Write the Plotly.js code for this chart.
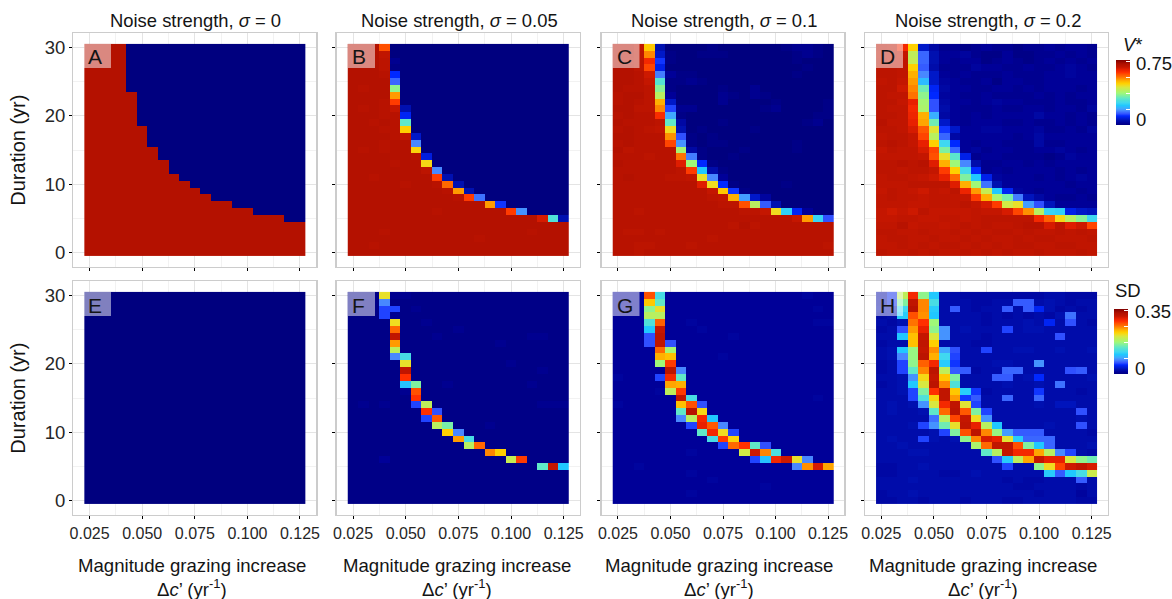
<!DOCTYPE html>
<html><head><meta charset="utf-8">
<script src="https://cdn.plot.ly/plotly-3.0.1.min.js"></script>
<style>html,body{margin:0;padding:0;background:#fff}</style></head>
<body><div id="chart" style="width:1172px;height:599px"></div>
<script>
// Cell values are percent of the top of each colour legend; rows run from duration 30 (first) to 0 (last).
const V_TOP = 0.775, SD_TOP = 0.36;
const durations = Array.from({length:31},(_,i)=>30-i);
const magnitudes = [0.025,0.03,0.035,0.04,0.045,0.05,0.055,0.06,0.065,0.07,0.075,0.08,0.085,0.09,0.095,0.1,0.105,0.11,0.115,0.12,0.125];
const noiseLabels = ['0','0.05','0.1','0.2'];
const panelLetters = ['A','B','C','D','E','F','G','H'];
const vTicks = [0,0.1875,0.375,0.5625,0.75];
const sdTicks = [0,0.0875,0.175,0.2625,0.35];
// Panel A: number of red columns on each row (the rest are blue)
const panelA_redCols = [4,4,4,4,4,4,4,5,5,5,5,5,6,6,6,7,7,8,8,9,10,11,12,14,16,19,21,21,21,21,21];
const panelB = [
[93,93,93,78,0,0,0,0,0,0,0,0,0,0,0,0,0,0,0,0,0],
[93,93,93,90,0,0,0,0,0,0,0,0,0,0,0,0,0,0,0,0,0],
[93,93,93,91,2,0,0,0,0,0,0,0,0,0,0,0,0,0,0,0,0],
[93,93,93,91,1,0,0,0,0,0,0,0,0,0,0,0,0,0,0,0,0],
[93,93,93,92,14,0,0,0,0,0,0,0,0,0,0,0,0,0,0,0,0],
[93,93,93,93,19,0,0,0,0,0,0,0,0,0,0,0,0,0,0,0,0],
[93,92,93,93,47,0,0,0,0,0,0,0,0,0,0,0,0,0,0,0,0],
[93,93,93,93,70,0,0,0,0,0,0,0,0,0,0,0,0,0,0,0,0],
[93,93,93,92,80,0,0,0,0,0,0,0,0,0,0,0,0,0,0,0,0],
[93,92,93,92,89,7,0,0,0,0,0,0,0,0,0,0,0,0,0,0,0],
[93,93,93,92,92,13,0,0,0,0,0,0,0,0,0,0,0,0,0,0,0],
[93,93,92,93,92,41,0,0,0,0,0,0,0,0,0,0,0,0,0,0,0],
[93,93,93,92,92,64,0,0,0,0,0,0,0,0,0,0,0,0,0,0,0],
[93,93,93,93,92,90,9,0,0,0,0,0,0,0,0,0,0,0,0,0,0],
[93,93,93,92,93,93,22,0,0,0,0,0,0,0,0,0,0,0,0,0,0],
[93,92,93,92,93,93,63,0,0,0,0,0,0,0,0,0,0,0,0,0,0],
[93,93,93,93,93,93,92,11,0,0,0,0,0,0,0,0,0,0,0,0,0],
[93,93,93,93,92,93,93,62,0,0,0,0,0,0,0,0,0,0,0,0,0],
[93,93,93,93,93,93,93,91,22,0,0,0,0,0,0,0,0,0,0,0,0],
[93,93,92,93,93,93,93,93,80,7,0,0,0,0,0,0,0,0,0,0,0],
[93,93,93,93,93,92,93,93,92,75,7,0,0,0,0,0,0,0,0,0,0],
[93,93,93,93,93,93,93,93,93,92,70,7,0,0,0,0,0,0,0,0,0],
[93,93,93,93,93,93,93,93,93,93,92,80,20,0,0,0,0,0,0,0,0],
[93,93,93,93,93,93,93,93,93,93,93,93,93,70,15,0,0,0,0,0,0],
[93,93,93,93,93,93,93,93,92,93,93,93,93,93,93,80,23,0,0,0,0],
[93,93,93,93,93,93,93,93,93,93,93,93,93,93,93,93,93,93,87,38,7],
[93,93,93,93,93,93,93,93,93,93,93,93,93,93,93,93,93,93,93,93,93],
[93,93,93,92,93,93,93,93,93,93,93,93,93,93,93,93,93,92,93,93,93],
[93,93,93,93,93,93,93,93,93,93,93,93,92,93,93,93,93,93,93,93,93],
[93,93,92,93,93,93,93,93,93,93,93,93,93,93,93,93,93,93,93,93,93],
[93,93,93,93,93,93,93,93,93,93,93,93,93,93,93,93,93,93,93,93,93]];
const panelC = [
[93,93,90,65,7,0,0,0,0,1,0,0,0,0,0,0,1,2,2,1,0],
[93,93,91,72,9,1,0,0,1,1,1,0,0,0,0,0,0,1,2,1,0],
[93,92,91,83,15,1,0,0,0,0,0,0,0,0,0,0,0,1,0,0,0],
[93,93,91,79,12,0,0,0,0,0,0,0,0,0,0,0,0,0,1,0,0],
[93,93,92,88,21,3,1,1,0,0,0,0,0,0,0,0,0,1,0,0,0],
[93,93,92,89,39,1,1,2,1,0,0,0,0,0,0,0,0,0,0,0,0],
[93,92,92,91,46,1,0,0,0,0,1,0,0,2,0,0,0,0,0,0,0],
[92,93,93,91,53,3,0,0,0,0,2,1,0,2,1,0,0,0,0,0,0],
[92,93,92,91,68,9,0,0,0,0,2,0,0,0,0,1,0,0,0,0,1],
[93,93,91,91,72,16,2,2,0,0,0,0,0,0,1,2,0,0,0,0,1],
[92,93,92,92,82,25,1,0,0,0,0,0,0,0,0,0,0,0,0,1,1],
[93,92,92,92,91,41,5,0,0,0,1,0,0,0,0,0,0,0,1,2,0],
[92,93,92,91,90,61,7,0,1,0,0,0,0,1,0,0,0,0,0,0,0],
[93,93,92,92,92,71,17,1,0,1,0,0,0,0,0,0,0,0,0,0,0],
[92,93,92,92,92,79,23,1,0,1,1,0,0,0,0,0,0,1,0,0,0],
[93,91,92,92,92,92,50,5,1,0,0,0,1,0,0,0,0,1,0,0,0],
[92,92,92,91,92,92,74,21,1,0,0,1,0,0,0,0,0,0,0,0,0],
[93,92,92,92,92,92,86,49,14,1,0,0,0,0,0,0,0,0,0,0,0],
[92,92,92,92,92,92,91,80,30,6,1,0,0,0,0,0,0,0,0,0,0],
[92,93,92,92,92,91,91,90,60,22,3,0,0,0,0,0,0,0,0,0,0],
[92,92,92,92,92,92,92,92,86,61,14,1,0,0,0,0,1,0,0,0,0],
[92,92,92,92,92,92,92,92,92,89,65,15,1,0,0,0,0,0,0,0,0],
[92,92,92,92,92,92,92,92,92,91,90,68,24,9,4,0,0,0,0,0,0],
[92,92,92,92,92,92,92,92,92,92,91,91,78,53,18,7,0,0,0,0,0],
[92,92,91,92,92,92,92,92,92,92,92,92,91,91,89,61,32,13,3,0,0],
[92,92,92,92,92,92,92,92,92,92,92,92,92,92,92,92,92,89,70,33,17],
[92,92,92,92,92,92,92,92,92,92,92,91,93,91,92,92,92,92,92,92,92],
[92,91,91,92,91,92,92,92,92,92,92,92,92,92,92,92,92,92,92,92,92],
[92,92,92,92,92,92,92,92,92,91,92,92,92,92,92,92,92,92,92,92,92],
[92,92,91,91,92,92,92,91,92,92,92,92,92,92,92,92,92,92,92,92,91],
[92,92,91,92,92,92,92,92,92,92,92,92,92,92,92,92,92,92,92,92,92]];
const panelD = [
[92,91,83,64,9,5,2,2,1,2,3,2,2,1,2,2,3,2,3,3,2],
[91,91,89,54,19,7,3,3,4,2,1,1,3,1,1,2,2,3,2,3,2],
[92,90,90,55,19,7,3,2,3,3,1,2,3,2,1,2,3,2,3,2,3],
[91,91,90,64,18,6,2,2,2,4,3,3,2,2,3,2,2,3,4,3,2],
[91,91,90,68,22,9,3,2,3,2,2,2,3,2,2,2,3,3,4,3,3],
[90,91,89,70,28,9,4,3,2,2,3,1,3,3,2,2,3,3,3,3,3],
[91,91,88,72,43,13,5,3,3,2,2,3,3,2,3,2,3,3,3,2,3],
[91,90,90,74,47,14,4,3,2,2,3,2,2,2,2,3,2,3,2,3,3],
[91,91,89,85,50,17,5,3,3,2,3,4,3,3,2,2,2,3,2,2,3],
[91,90,90,83,51,17,6,3,2,2,2,3,2,2,3,3,2,3,3,2,4],
[91,91,90,84,68,26,5,3,2,3,2,3,3,3,3,5,3,3,2,3,2],
[92,90,90,85,69,43,9,3,2,3,3,3,2,2,3,2,2,3,2,3,2],
[91,91,90,87,77,59,15,9,3,3,4,4,3,3,3,4,2,2,3,2,4],
[90,91,91,89,79,53,19,5,3,3,3,3,3,2,3,5,3,3,3,3,3],
[91,92,91,89,85,64,34,14,3,2,3,3,2,2,2,5,2,2,3,3,3],
[89,91,90,90,87,79,45,19,3,4,2,3,3,2,2,3,3,4,3,2,3],
[90,90,90,90,89,78,60,40,12,2,3,3,2,2,2,2,1,2,4,3,3],
[91,91,92,91,92,86,68,49,22,6,2,2,3,3,2,3,2,3,3,3,3],
[91,91,90,91,91,89,80,64,35,14,2,3,2,3,3,3,3,2,3,2,3],
[90,91,91,90,89,88,85,75,45,30,12,4,3,3,3,2,3,2,3,4,3],
[90,90,90,91,91,91,91,86,68,49,20,7,3,3,3,3,3,3,2,3,3],
[89,91,90,89,88,90,89,91,84,70,55,30,13,4,3,2,3,3,3,2,3],
[90,91,90,90,89,90,90,90,89,80,68,51,44,21,8,5,3,2,2,3,2],
[90,90,90,89,89,90,90,90,91,89,87,80,57,60,24,17,8,3,3,3,3],
[89,88,89,88,91,89,89,89,89,90,89,89,87,79,71,53,33,32,12,9,8],
[89,89,90,90,89,89,90,90,89,90,91,91,91,91,91,83,76,62,53,46,34],
[90,90,92,89,90,90,89,90,91,90,91,90,90,91,92,92,87,91,86,88,79],
[91,91,90,90,91,90,90,91,90,91,90,91,91,90,91,90,90,91,90,91,90],
[90,91,91,90,90,91,90,90,91,90,91,90,90,91,90,91,91,90,90,90,91],
[90,90,91,90,91,90,91,91,90,91,90,91,90,91,91,90,90,91,91,90,90],
[91,90,90,91,90,91,90,90,91,90,91,90,91,90,90,91,90,90,90,91,90]];
const panelE = durations.map(()=>magnitudes.map(()=>0));
const panelF = [
[1,1,1,60,2,2,1,1,1,1,1,1,1,1,1,1,1,1,1,1,1],
[1,1,1,22,1,1,1,1,1,1,1,1,1,1,1,1,1,1,1,1,1],
[1,1,1,16,16,1,2,1,1,1,1,1,1,1,1,1,1,1,1,1,1],
[1,1,1,16,2,1,1,1,1,1,1,1,1,1,1,1,1,1,1,1,1],
[1,1,1,1,61,1,1,2,1,1,1,1,1,1,1,1,1,1,1,1,1],
[1,1,1,1,75,1,1,1,1,1,2,1,1,1,1,1,1,1,1,1,1],
[1,1,1,1,90,1,1,1,2,1,1,1,1,1,1,1,1,2,2,1,1],
[1,1,1,1,70,1,1,1,1,1,1,1,1,1,2,1,1,1,1,1,1],
[1,1,1,1,54,1,1,1,1,1,1,1,1,1,1,1,1,1,1,1,1],
[1,1,1,1,22,36,1,1,1,1,1,1,1,1,1,1,1,1,1,1,1],
[1,1,1,1,1,60,1,1,1,1,1,1,1,1,1,2,1,1,1,1,1],
[1,1,1,1,1,90,1,1,1,1,1,1,1,1,1,1,1,1,2,1,1],
[1,1,1,1,1,81,1,1,1,1,1,1,1,1,1,1,1,1,1,1,1],
[1,1,1,1,1,29,45,1,1,2,1,1,1,1,1,1,1,2,1,1,1],
[1,1,1,1,1,2,78,1,1,1,1,1,1,1,1,1,1,1,1,1,1],
[1,1,1,1,1,1,81,1,1,1,1,1,1,1,1,1,1,1,1,1,1],
[1,2,1,2,1,1,16,54,1,1,1,1,1,1,1,1,1,1,2,2,2],
[1,1,1,1,1,1,1,81,17,1,1,1,1,1,1,1,1,1,1,1,1],
[1,1,1,1,1,1,1,16,77,1,1,1,1,1,1,1,1,1,1,1,1],
[1,1,1,1,1,1,1,1,53,44,1,1,1,2,1,1,1,1,1,1,1],
[1,1,1,1,1,1,1,1,1,64,22,1,1,1,1,1,1,1,1,1,1],
[1,1,1,1,1,1,1,1,1,1,70,36,1,1,1,1,1,1,1,1,1],
[1,1,1,1,1,1,1,1,1,1,1,53,75,1,1,1,1,1,1,1,1],
[1,1,1,1,1,1,1,1,1,1,1,1,1,72,64,1,1,1,1,1,1],
[1,1,1,3,1,1,1,1,1,1,1,1,1,1,1,55,80,1,1,1,1],
[1,1,1,1,1,1,1,1,1,1,1,1,1,1,1,1,1,1,41,89,30],
[1,1,1,1,1,1,1,1,1,1,1,1,1,1,1,1,1,1,1,1,1],
[1,1,1,1,1,1,1,1,1,1,1,1,1,1,1,1,1,1,1,1,1],
[1,1,1,1,1,1,1,1,1,1,1,1,1,1,1,1,1,1,1,1,1],
[1,1,1,1,1,1,1,1,1,1,1,1,1,1,1,1,1,1,1,1,1],
[1,1,1,1,1,1,1,1,1,1,1,1,1,1,1,1,1,1,1,1,1]];
const panelG = [
[3,3,3,78,36,3,3,3,3,3,3,3,3,3,3,3,3,3,4,3,3],
[3,3,3,65,41,3,3,3,3,3,3,3,3,3,3,3,3,3,3,3,3],
[3,3,3,47,60,3,3,3,3,3,3,3,3,3,3,3,3,3,3,4,3],
[3,3,3,53,53,3,3,3,3,3,3,3,3,3,3,3,3,3,3,3,3],
[3,3,3,38,76,3,3,4,3,3,3,3,3,3,3,3,3,3,3,4,4],
[3,3,3,30,89,3,3,3,4,3,3,3,3,3,3,3,3,3,3,3,3],
[3,3,3,17,91,3,3,3,3,3,3,4,3,3,3,3,3,3,3,3,3],
[3,3,3,17,90,17,3,3,3,3,3,3,3,3,3,3,3,3,3,3,3],
[3,3,3,3,75,50,3,3,3,3,3,3,3,3,3,3,3,3,3,3,3],
[3,3,3,3,68,66,3,3,3,3,4,3,3,3,3,3,3,3,3,3,3],
[3,3,3,3,49,80,3,3,3,3,3,3,3,3,3,3,3,3,3,3,3],
[3,3,3,3,3,91,22,3,3,3,3,3,3,3,3,3,3,3,3,3,3],
[4,3,3,3,16,83,41,3,3,3,3,3,3,3,3,3,3,3,3,3,3],
[3,3,3,3,3,69,68,3,3,3,3,3,3,3,3,3,3,3,3,3,3],
[3,3,3,3,4,54,80,3,3,3,3,3,3,3,3,3,3,3,3,3,3],
[3,3,3,3,3,3,90,36,3,3,3,3,3,3,3,3,3,3,3,4,3],
[4,3,3,3,3,3,66,78,17,3,3,3,3,3,3,3,3,3,3,3,3],
[3,3,3,3,3,3,41,92,62,3,3,3,3,3,3,3,3,3,3,3,3],
[3,3,3,3,3,3,22,53,83,30,3,3,3,3,3,3,3,3,3,3,3],
[3,3,3,3,3,3,3,16,85,77,22,3,3,3,3,3,3,3,3,3,3],
[3,3,3,3,3,3,3,3,41,83,61,16,3,3,3,3,3,3,3,3,3],
[3,3,3,3,3,3,3,3,3,36,80,63,3,3,3,3,3,3,3,3,3],
[3,3,3,3,3,3,3,3,3,3,16,75,81,41,17,3,3,3,3,3,3],
[3,3,3,3,3,3,3,4,3,3,3,3,57,88,72,37,3,3,3,3,3],
[3,3,3,3,3,3,3,3,3,3,3,3,3,16,29,83,88,60,22,3,3],
[3,3,4,3,3,3,3,3,3,3,3,3,3,3,3,3,3,22,71,87,69],
[3,3,3,3,3,3,3,4,3,3,3,3,3,3,3,3,3,3,3,3,3],
[3,3,3,3,3,3,3,3,3,4,3,3,3,3,3,3,3,3,3,3,3],
[3,3,3,3,3,3,3,3,3,3,3,3,3,3,4,3,3,3,3,3,3],
[3,3,3,3,3,3,3,4,3,3,3,3,3,3,3,3,3,3,3,3,3],
[3,3,3,3,3,3,3,3,3,3,3,3,3,3,3,3,3,3,3,3,3]];
const panelH = [
[5,12,54,83,47,30,6,6,5,5,5,5,5,5,5,5,6,6,5,5,5],
[5,12,45,90,72,36,6,6,6,5,5,6,6,18,18,6,7,6,5,6,6],
[6,6,34,92,72,31,6,18,6,5,6,6,18,6,18,13,7,5,6,5,6],
[5,6,31,78,71,30,6,6,6,6,5,6,5,6,5,6,5,7,20,6,6],
[6,5,7,74,81,49,6,6,6,6,5,6,6,6,7,6,13,6,17,6,5],
[5,6,17,70,85,47,23,6,7,6,6,6,16,6,7,7,6,6,6,6,6],
[6,6,30,66,89,58,23,6,6,6,5,6,6,6,6,6,6,17,6,6,6],
[5,6,6,66,90,64,6,6,6,5,5,6,6,6,6,6,6,6,6,6,6],
[6,7,30,48,89,71,25,17,6,6,16,6,6,7,7,6,6,7,6,6,7],
[6,7,22,48,91,68,34,16,6,6,6,6,6,6,6,6,6,6,6,6,6],
[5,6,16,47,76,83,31,15,6,6,6,7,7,6,6,23,6,6,6,6,6],
[5,6,16,41,72,91,54,18,18,5,6,6,19,19,6,6,6,6,17,18,6],
[6,6,7,23,62,89,65,45,6,6,6,18,18,6,7,14,6,6,6,6,7],
[5,6,7,30,58,91,72,38,6,6,6,6,7,6,6,7,6,20,6,6,6],
[6,6,7,16,45,81,90,65,31,15,5,6,6,6,6,15,6,6,6,5,6],
[6,6,6,16,38,63,90,70,15,18,6,6,19,6,6,19,6,6,6,6,6],
[6,7,6,7,23,58,83,90,59,16,6,6,6,6,6,7,6,8,8,6,6],
[6,7,6,6,7,41,75,91,77,45,16,6,6,6,6,6,6,6,6,17,6],
[6,6,6,6,6,20,53,79,89,61,23,6,6,6,6,6,6,6,6,7,6],
[6,6,6,7,16,23,43,60,90,85,53,30,6,6,6,6,7,6,6,17,6],
[6,6,6,6,6,7,16,45,78,91,72,48,24,18,18,18,6,6,6,6,5],
[6,7,6,6,16,7,6,7,47,72,87,85,59,31,19,19,19,6,6,6,6],
[6,6,7,6,6,6,6,6,6,51,75,90,90,78,45,30,19,6,6,6,7],
[6,6,6,7,7,6,6,6,6,6,41,53,89,83,83,69,53,22,16,6,5],
[6,6,6,6,6,6,6,6,6,6,6,17,31,54,69,89,85,85,58,47,43],
[5,5,6,6,7,6,6,6,6,6,6,6,16,6,6,47,61,79,88,90,87],
[5,5,6,6,6,6,5,5,6,7,6,6,6,6,6,6,31,18,30,36,56],
[6,6,6,7,6,6,6,6,6,6,6,6,5,6,5,5,6,6,6,18,6],
[6,6,6,6,6,6,6,6,6,6,6,6,6,5,5,6,6,6,6,5,6],
[5,6,6,7,6,6,6,6,6,6,6,6,6,6,6,5,6,6,6,4,6],
[5,5,6,6,5,6,6,6,5,6,6,6,5,5,6,6,6,6,6,5,5]];
const panelA = panelA_redCols.map(n=>magnitudes.map((m,i)=>i<n?93:0));

// colour ramp (fraction of legend, colour)
const ramp = [[0,'#00007F'],[.03,'#000098'],[.07,'#0010B0'],[.09,'#0018C8'],[.12,'#0020E8'],[.14,'#0028FF'],[.17,'#3050FF'],[.22,'#4888FF'],[.25,'#40A8FF'],[.30,'#20C8FF'],[.34,'#40D8F0'],[.38,'#50E0D8'],[.41,'#60E8C8'],[.45,'#80F0A0'],[.49,'#A0F878'],[.53,'#B8F060'],[.58,'#D8E840'],[.61,'#F0DC20'],[.64,'#FFD000'],[.68,'#FFB000'],[.71,'#FF9000'],[.75,'#FF6800'],[.78,'#FF5000'],[.81,'#FF3000'],[.85,'#E82000'],[.89,'#C41600'],[.94,'#B01000'],[1,'#7F0000']];

const W=1172,H=599, font='"Liberation Sans",Arial,sans-serif', ink='#141414';
const px=v=>v/W, py=v=>1-v/H;
const colsPx=[[73.3,316.3],[336.7,580],[601.7,844.3],[865,1108]];
const rowsPx=[[33.3,267],[281.3,515]];
const panels=[panelA,panelB,panelC,panelD,panelE,panelF,panelG,panelH];
const traces=[],layout={width:W,height:H,margin:{l:0,r:0,t:0,b:0,autoexpand:false},paper_bgcolor:'#fff',plot_bgcolor:'#fff',showlegend:false,font:{family:font,color:ink},annotations:[],shapes:[]};
const note=(text,x,y,size,extra)=>layout.annotations.push(Object.assign({text,x:px(x),y:py(y),xref:'paper',yref:'paper',showarrow:false,font:{size,family:font,color:ink},xanchor:'center',yanchor:'middle',borderpad:0},extra||{}));

panels.forEach((rows,i)=>{
  const r=i<4?0:1,c=i%4,id=i+1;
  const scale=r===0?V_TOP:SD_TOP;
  const suffix=id===1?'':id;
  const t={type:'heatmap',x:magnitudes,y:durations.slice().reverse(),z:rows.slice().reverse().map(row=>row.map(v=>v*scale/100)),
    zmin:0,zmax:scale,colorscale:ramp,xaxis:'x'+suffix,yaxis:'y'+suffix,showscale:false,xgap:0,ygap:0,hoverinfo:'skip'};
  if(c===3){
    t.showscale=true;
    const bar=r===0?[1116,1129.5,60,124.7]:[1114,1128,309,374];
    t.colorbar={x:px(bar[0]),xanchor:'left',thickness:bar[1]-bar[0],thicknessmode:'pixels',xpad:0,ypad:0,
      lenmode:'pixels',len:bar[3]-bar[2],y:py((bar[2]+bar[3])/2),yanchor:'middle',outlinewidth:0,borderwidth:0,
      tickmode:'array',tickvals:r===0?vTicks:sdTicks,ticks:'inside',ticklen:4,tickcolor:'#fff',tickwidth:1,showticklabels:false};
  }
  traces.push(t);
  layout['xaxis'+suffix]={domain:[px(colsPx[c][0]),px(colsPx[c][1])],range:[0.01725,0.13275],anchor:'y'+suffix,
    tick0:0.025,dtick:0.025,tickformat:'.3f',ticks:'outside',ticklen:3,tickwidth:1,tickcolor:'#000',
    showticklabels:r===1,tickfont:{size:16,color:'#262626',family:font},
    showgrid:true,gridcolor:'#e4e4e4',gridwidth:1,zeroline:false,showline:true,mirror:true,linecolor:'#cccccc',linewidth:1.3,
    minor:{tick0:0.0125,dtick:0.025,showgrid:true,gridcolor:'#f2f2f2',gridwidth:1,ticks:''}};
  layout['yaxis'+suffix]={domain:[py(rowsPx[r][1]),py(rowsPx[r][0])],range:[-2.05,32.05],anchor:'x'+suffix,
    tick0:0,dtick:10,ticks:'outside',ticklen:3,tickwidth:1,tickcolor:'#000',
    showticklabels:c===0,tickfont:{size:18.5,color:'#262626',family:font},
    showgrid:true,gridcolor:'#e4e4e4',gridwidth:1,zeroline:false,showline:true,mirror:true,linecolor:'#cccccc',linewidth:1.3,
    minor:{tick0:5,dtick:10,showgrid:true,gridcolor:'#f2f2f2',gridwidth:1,ticks:''},
    title:c===0?{text:'Duration (yr)',font:{size:20,family:font,color:ink},standoff:13}:undefined};
  // letter tag
  const bx=[84,348,612.5,876][c], by=[44,292][r];
  layout.shapes.push({type:'rect',xref:'paper',yref:'paper',x0:px(bx),x1:px(bx+27),y0:py(by),y1:py(by+24),fillcolor:'rgba(255,255,255,0.5)',line:{width:0},layer:'above'});
  note(panelLetters[i],bx+3,by+13,21,{xanchor:'left'});
  // bottom axis caption
  if(r===1){
    const cx=[191.8,456.5,719,982.5][c];
    note('Magnitude grazing increase',cx,565,18.6);
    note('Δ<i>c</i>’ (yr<sup>-1</sup>)',cx,588,18.6);
  }
});
noiseLabels.forEach((s,c)=>note('Noise strength, <i>σ</i> = '+s,(colsPx[c][0]+colsPx[c][1])/2+1,21,18.4));
note('<i>V</i>*',1122,44,18.5,{xanchor:'left'});
note('0.75',1135,63,18.5,{xanchor:'left'});
note('0',1135,119.5,18.5,{xanchor:'left'});
note('SD',1114,290,18.5,{xanchor:'left'});
note('0.35',1134,311,18.5,{xanchor:'left'});
note('0',1134,368,18.5,{xanchor:'left'});
Plotly.newPlot('chart',traces,layout,{displayModeBar:false,staticPlot:true});
</script></body></html>
